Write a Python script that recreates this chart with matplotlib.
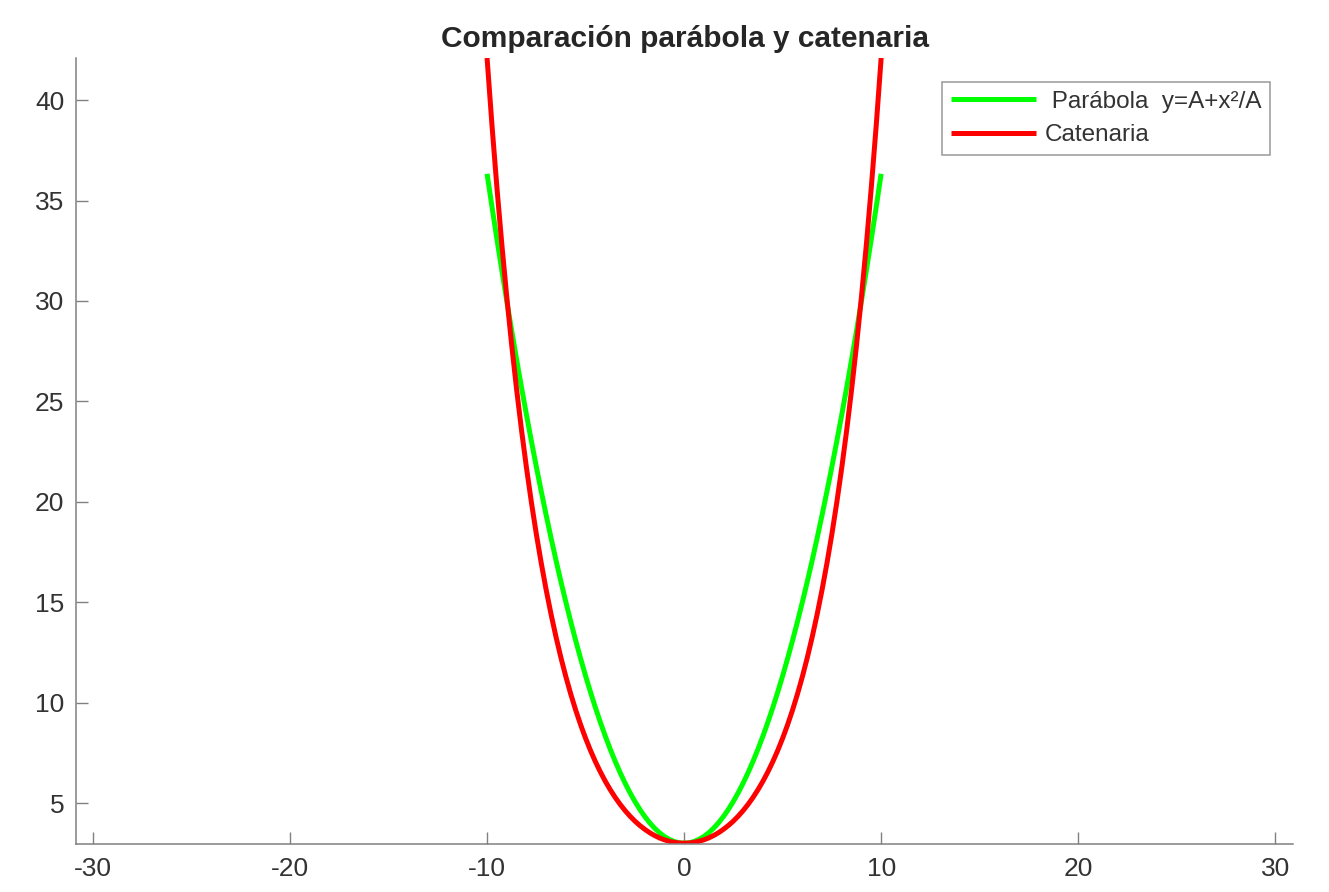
import matplotlib
matplotlib.use('Agg')
import matplotlib.pyplot as plt

# x values (both curves sampled on the same grid, 0.25 step)
x = [-10.0, -9.75, -9.5, -9.25, -9.0, -8.75, -8.5, -8.25, -8.0, -7.75, -7.5, -7.25,
     -7.0, -6.75, -6.5, -6.25, -6.0, -5.75, -5.5, -5.25, -5.0, -4.75, -4.5, -4.25,
     -4.0, -3.75, -3.5, -3.25, -3.0, -2.75, -2.5, -2.25, -2.0, -1.75, -1.5, -1.25,
     -1.0, -0.75, -0.5, -0.25, 0.0,
     0.25, 0.5, 0.75, 1.0, 1.25, 1.5, 1.75, 2.0, 2.25, 2.5, 2.75, 3.0,
     3.25, 3.5, 3.75, 4.0, 4.25, 4.5, 4.75, 5.0, 5.25, 5.5, 5.75, 6.0,
     6.25, 6.5, 6.75, 7.0, 7.25, 7.5, 7.75, 8.0, 8.25, 8.5, 8.75, 9.0,
     9.25, 9.5, 9.75, 10.0]

# parabola y = A + x^2/A  (A = 3)
y_parabola = [36.333, 34.688, 33.083, 31.521, 30.000, 28.521, 27.083, 25.688, 24.333, 23.021, 21.750, 20.521,
              19.333, 18.188, 17.083, 16.021, 15.000, 14.021, 13.083, 12.188, 11.333, 10.521, 9.750, 9.021,
              8.333, 7.688, 7.083, 6.521, 6.000, 5.521, 5.083, 4.688, 4.333, 4.021, 3.750, 3.521,
              3.333, 3.188, 3.083, 3.021, 3.000,
              3.021, 3.083, 3.188, 3.333, 3.521, 3.750, 4.021, 4.333, 4.688, 5.083, 5.521, 6.000,
              6.521, 7.083, 7.688, 8.333, 9.021, 9.750, 10.521, 11.333, 12.188, 13.083, 14.021, 15.000,
              16.021, 17.083, 18.188, 19.333, 20.521, 21.750, 23.021, 24.333, 25.688, 27.083, 28.521, 30.000,
              31.521, 33.083, 34.688, 36.333]

# catenary
y_catenaria = [42.101, 38.744, 35.655, 32.815, 30.203, 27.801, 25.591, 23.560, 21.692, 19.975, 18.397, 16.947,
               15.613, 14.390, 13.266, 12.234, 11.287, 10.418, 9.622, 8.893, 8.225, 7.615, 7.057, 6.549,
               6.086, 5.665, 5.284, 4.939, 4.629, 4.351, 4.103, 3.884, 3.694, 3.525, 3.383, 3.264,
               3.168, 3.094, 3.042, 3.010, 3.000,
               3.010, 3.042, 3.094, 3.168, 3.264, 3.383, 3.525, 3.694, 3.884, 4.103, 4.351, 4.629,
               4.939, 5.284, 5.665, 6.086, 6.549, 7.057, 7.615, 8.225, 8.893, 9.622, 10.418, 11.287,
               12.234, 13.266, 14.390, 15.613, 16.947, 18.397, 19.975, 21.692, 23.560, 25.591, 27.801, 30.203,
               32.815, 35.655, 38.744, 42.101]

xticks = [-30, -20, -10, 0, 10, 20, 30]
yticks = [5, 10, 15, 20, 25, 30, 35, 40]

plt.rcParams['font.family'] = ['Liberation Sans', 'DejaVu Sans']
plt.rcParams['axes.unicode_minus'] = False

fig = plt.figure(figsize=(13.29, 8.92), dpi=100)
ax = fig.add_axes([0.0572, 0.0538, 0.9157, 0.8812])

ax.plot(x, y_parabola, color='#00ff00', lw=3.6, label=' Parábola  y=A+x²/A', solid_capstyle='butt')
ax.plot(x, y_catenaria, color='#ff0000', lw=3.6, label='Catenaria', solid_capstyle='butt')

ax.set_xlim(-30.86, 30.9)
ax.set_ylim(2.96, 42.1)
ax.set_xticks(xticks)
ax.set_yticks(yticks)

for s in ['top', 'right']:
    ax.spines[s].set_visible(False)
for s in ['left', 'bottom']:
    ax.spines[s].set_color('#808080')
    ax.spines[s].set_linewidth(1.1)
ax.tick_params(direction='in', length=8.5, width=1.0, color='#808080',
               labelcolor='#333333', labelsize=19)
ax.tick_params(axis='y', pad=8.5)
ax.tick_params(axis='x', pad=9)

ax.set_title('Comparación parábola y catenaria', fontsize=21.5, fontweight='bold',
             color='#262626', pad=8)

leg = ax.legend(loc='upper right', bbox_to_anchor=(0.981, 0.9695), borderaxespad=0,
                fontsize=17.5, fancybox=False, handlelength=3.5, handletextpad=0.35,
                labelspacing=0.48, borderpad=0.36, frameon=True)
leg.get_frame().set_edgecolor('#808080')
leg.get_frame().set_linewidth(1.1)
for t in leg.get_texts():
    t.set_color('#333333')

fig.savefig('out.png', dpi=100)
